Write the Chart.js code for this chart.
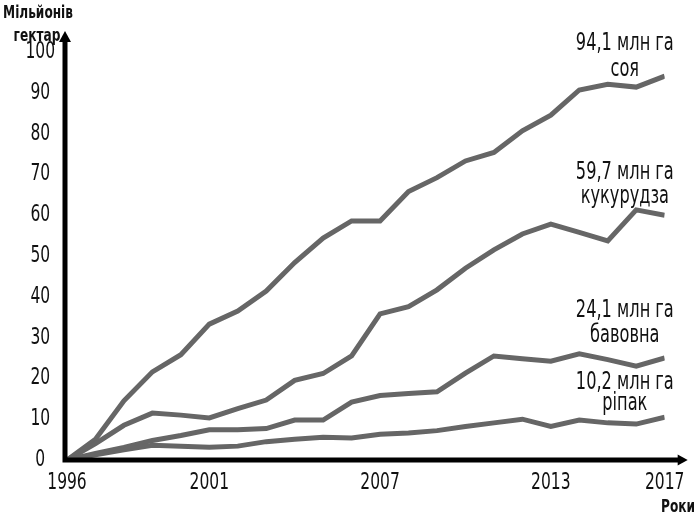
<!DOCTYPE html>
<html>
<head>
<meta charset="utf-8">
<script src="https://cdn.jsdelivr.net/npm/chart.js@4"></script>
<style>
  html, body { margin: 0; padding: 0; background: #fff; }
  #wrap { width: 700px; height: 518px; }
</style>
</head>
<body>
<div id="wrap"><canvas id="chart"></canvas></div>
<script>
// Площі під ГМ-культурами, млн га (1996–2017)
const years = [1996, 1997, 1998, 1999, 2000, 2001, 2002, 2003, 2004, 2005, 2006,
               2007, 2008, 2009, 2010, 2011, 2012, 2013, 2014, 2015, 2016, 2017];
const soy    = [0, 5.1, 14.5, 21.6, 25.8, 33.3, 36.5, 41.4, 48.4, 54.4, 58.6,
                58.6, 65.8, 69.2, 73.3, 75.4, 80.7, 84.5, 90.7, 92.1, 91.4, 94.1];
const maize  = [0, 4.0, 8.5, 11.5, 11.0, 10.3, 12.6, 14.7, 19.5, 21.2, 25.5,
                35.8, 37.6, 41.7, 47.0, 51.5, 55.4, 57.8, 55.8, 53.7, 61.3, 60.0];
const cotton = [0, 1.6, 3.1, 4.8, 6.0, 7.4, 7.4, 7.7, 9.8, 9.8, 14.2,
                15.8, 16.3, 16.7, 21.3, 25.5, 24.8, 24.2, 26.0, 24.6, 23.0, 25.0];
const canola = [0, 1.3, 2.5, 3.6, 3.4, 3.1, 3.4, 4.5, 5.1, 5.6, 5.4,
                6.3, 6.6, 7.2, 8.2, 9.1, 10.0, 8.2, 9.8, 9.1, 8.8, 10.5];

const xTicks = [1996, 2001, 2007, 2013, 2017];
const yTicks = [0, 10, 20, 30, 40, 50, 60, 70, 80, 90, 100];

// підписи біля кінців ліній: [текст, рік, значення]
const notes = [
    ['94,1 млн га', 2015.6, 102],
    ['соя', 2015.6, 95.6],
    ['59,7 млн га', 2015.6, 70.3],
    ['кукурудза', 2015.6, 64.4],
    ['24,1 млн га', 2015.6, 36.6],
    ['бавовна', 2015.6, 30.4],
    ['10,2 млн га', 2015.6, 18.9],
    ['ріпак', 2015.6, 13.9]
];

const FONT = "'DejaVu Sans Condensed', 'DejaVu Sans', sans-serif";
const LINE = '#666666';
const SQUEEZE = 0.75; // вужчий шрифт, як в оригіналі

const canvas = document.getElementById('chart');
const c2d = canvas.getContext('2d');
// весь текст стискаємо по горизонталі навколо точки прив'язки
const origFill = c2d.fillText.bind(c2d);
c2d.fillText = function (t, x, y, mw) {
    this.save();
    this.translate(x, y);
    this.scale(SQUEEZE, 1);
    origFill(t, 0, 0);
    this.restore();
};

const toPoints = arr => arr.map((v, i) => ({ x: years[i], y: v }));

// осі зі стрілками та текстові підписи
const decor = {
    id: 'decor',
    afterDatasetsDraw(chart) {
        const { ctx, scales: { x, y } } = chart;
        const x0 = x.getPixelForValue(1996);
        const y0 = y.getPixelForValue(0);
        const yTop = y.getPixelForValue(100);
        ctx.save();
        ctx.strokeStyle = '#000';
        ctx.fillStyle = '#000';
        ctx.lineWidth = 5;
        ctx.lineCap = 'butt';
        ctx.beginPath();
        ctx.moveTo(x0 - 2, y0 + 2.5);
        ctx.lineTo(x0 - 2, yTop - 12);
        ctx.moveTo(x0 - 4.5, y0);
        ctx.lineTo(x.right + 16, y0);
        ctx.stroke();
        // стрілка вгору
        ctx.beginPath();
        ctx.moveTo(x0 - 2, yTop - 21);
        ctx.lineTo(x0 - 8, yTop - 10);
        ctx.lineTo(x0 + 4, yTop - 10);
        ctx.closePath();
        ctx.fill();
        // стрілка вправо
        ctx.beginPath();
        ctx.moveTo(x.right + 23, y0);
        ctx.lineTo(x.right + 13, y0 - 5.5);
        ctx.lineTo(x.right + 13, y0 + 5.5);
        ctx.closePath();
        ctx.fill();

        ctx.fillStyle = '#111';
        ctx.textAlign = 'center';
        ctx.textBaseline = 'middle';
        ctx.font = '24px ' + FONT;
        notes.forEach(([t, yr, v]) => {
            ctx.fillText(t, x.getPixelForValue(yr), y.getPixelForValue(v));
        });

        ctx.font = 'bold 18px ' + FONT;
        ctx.fillText('Мільйонів', 38, 13);
        ctx.fillText('гектар', 37, 36);
        ctx.textAlign = 'right';
        ctx.fillText('Роки', 695, 507);
        ctx.restore();
    }
};

const mkSet = (label, arr) => ({
    label,
    data: toPoints(arr),
    borderColor: LINE,
    borderWidth: 5,
    pointRadius: 0,
    tension: 0,
    fill: false
});

new Chart(canvas, {
    type: 'line',
    data: {
        datasets: [
            mkSet('ріпак', canola),
            mkSet('бавовна', cotton),
            mkSet('кукурудза', maize),
            mkSet('соя', soy)
        ]
    },
    options: {
        responsive: true,
        maintainAspectRatio: false,
        animation: false,
        layout: { padding: { top: 52, right: 33, left: 0, bottom: 0 } },
        plugins: {
            legend: { display: false },
            tooltip: { enabled: false }
        },
        scales: {
            x: {
                type: 'linear',
                min: 1996,
                max: 2017,
                afterBuildTicks: s => { s.ticks = xTicks.map(v => ({ value: v })); },
                afterFit: s => { s.height = 58; },
                grid: { display: false, drawTicks: false },
                border: { display: false },
                ticks: {
                    color: '#111',
                    font: { family: FONT, size: 23 },
                    padding: 9,
                    maxRotation: 0,
                    autoSkip: false,
                    callback: v => String(v)
                }
            },
            y: {
                min: 0,
                max: 100,
                afterBuildTicks: s => { s.ticks = yTicks.map(v => ({ value: v })); },
                afterFit: s => { s.width = 67; },
                grid: { display: false, drawTicks: false },
                border: { display: false },
                ticks: {
                    color: '#111',
                    font: { family: FONT, size: 23 },
                    padding: 7,
                    crossAlign: 'center'
                }
            }
        }
    },
    plugins: [decor]
});
</script>
</body>
</html>
